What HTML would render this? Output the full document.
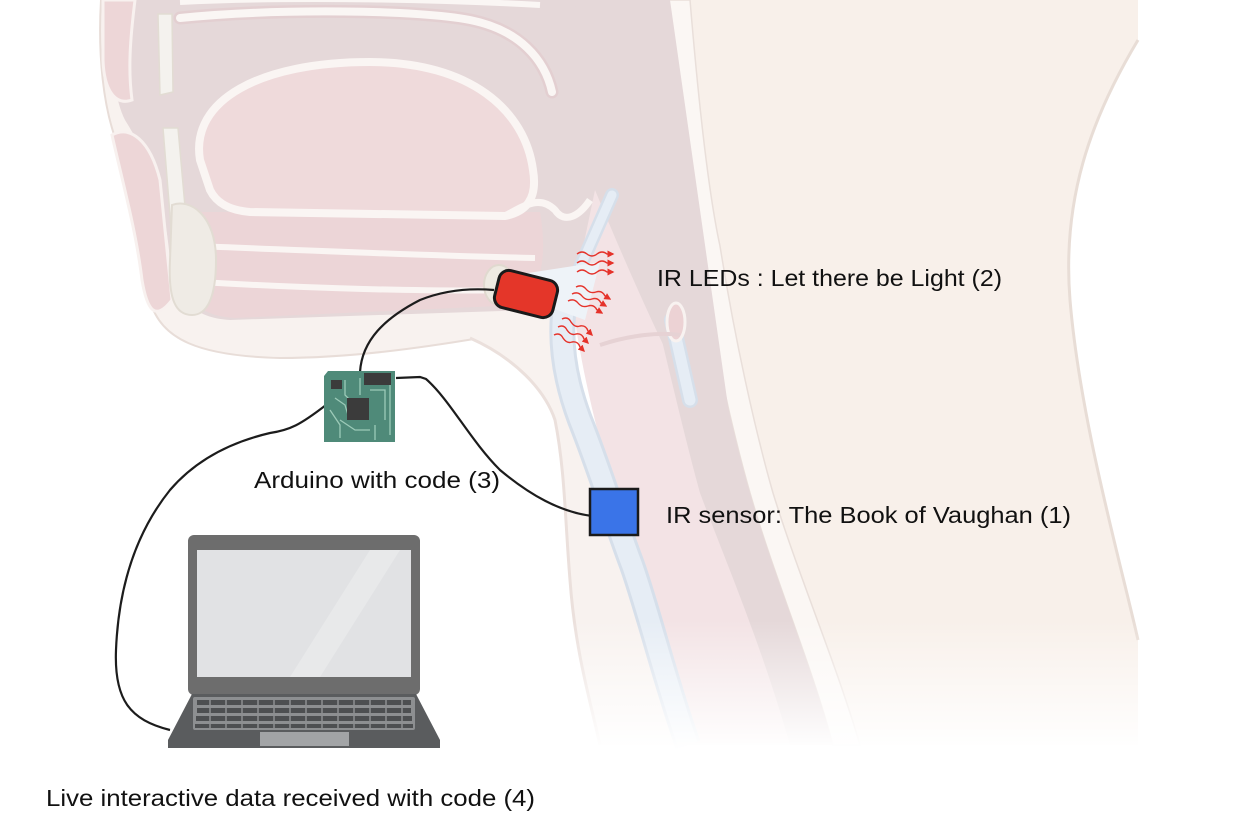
<!DOCTYPE html>
<html><head><meta charset="utf-8"><style>
html,body{margin:0;padding:0;background:#fff;}
svg{display:block;}
text{font-family:"Liberation Sans",sans-serif;fill:#111;font-size:23px;}
</style></head><body>
<svg width="1240" height="838" viewBox="0 0 1240 838" xmlns="http://www.w3.org/2000/svg">
<defs>
<linearGradient id="fade" x1="0" y1="0" x2="0" y2="1">
<stop offset="0" stop-color="#fff" stop-opacity="0"/>
<stop offset="1" stop-color="#fff" stop-opacity="1"/>
</linearGradient>
<marker id="ah" markerWidth="5" markerHeight="5" refX="4" refY="2.5" orient="auto"><path d="M0,0 L5,2.5 L0,5z" fill="#e5322a"/></marker>
</defs>

<path d="M690,0 L1138,0 L1138,40 C1090,120 1062,200 1070,300 C1080,420 1120,560 1138,640 L1138,745 L860,745 C835,660 800,580 773,493 C755,430 735,340 720,246 C710,200 700,120 690,0z" fill="#f8f0ea"/>
<path d="M1138,40 C1090,120 1062,200 1070,300 C1080,420 1120,560 1138,640" fill="none" stroke="#e8ddd6" stroke-width="3"/>
<path d="M667,0 L690,0 C700,120 710,200 720,246 C735,340 755,430 773,493 C800,580 835,660 860,745 L833,745 C810,660 775,580 750,493 C732,430 712,340 697,246 C687,200 677,120 667,0z" fill="#fbf7f4" stroke="#e9dfda" stroke-width="1.5"/>

<path d="M101,0 L600,0 L600,300 C560,325 520,335 480,338 C420,348 350,358 280,358 C200,356 160,340 150,300 C146,250 140,200 120,150 C102,110 98,50 101,0 Z" fill="#f8f2ef" stroke="#e8ddd8" stroke-width="2"/>
<path d="M115,0 L600,0 L600,262 C580,282 560,300 530,310 L230,320 C195,318 175,300 170,260 C165,200 150,160 125,120 C110,90 112,40 115,0 Z" fill="#e5d8d9"/>
<path d="M178,212 L540,212 C548,260 540,290 520,305 L235,318 C200,316 182,300 178,260 Z" fill="#ecd5d7"/>
<path d="M195,246 C300,250 430,256 535,258" fill="none" stroke="#faf5f3" stroke-width="6"/>
<path d="M200,282 C300,288 430,292 520,290" fill="none" stroke="#faf5f3" stroke-width="6"/>
<path d="M200,160 C190,100 260,62 370,62 C470,62 525,110 533,170 C538,200 525,212 505,216 L250,212 C225,210 215,200 210,190 Z" fill="#efdadb" stroke="#faf5f3" stroke-width="8"/>
<path d="M180,18 C280,8 420,10 470,20 C520,30 545,60 552,92" fill="none" stroke="#e3cfd1" stroke-width="13" stroke-linecap="round"/>
<path d="M180,18 C280,8 420,10 470,20 C520,30 545,60 552,92" fill="none" stroke="#faf6f4" stroke-width="8" stroke-linecap="round"/>
<path d="M180,2 C300,-4 450,0 540,5" fill="none" stroke="#faf6f4" stroke-width="6"/>
<path d="M103,0 L135,0 C130,40 128,70 132,100 C115,106 104,90 103,60 Z" fill="#edd6d7" stroke="#f8f1ef" stroke-width="3"/>
<path d="M112,135 C130,125 150,140 160,180 L172,300 C155,322 147,310 142,280 C136,230 122,180 112,135 Z" fill="#edd6d7" stroke="#f8f1ef" stroke-width="3"/>
<path d="M158,14 L172,14 L173,92 L160,95 Z" fill="#f4f2ee" stroke="#e2dcd3" stroke-width="1.5"/>
<path d="M163,128 L178,128 L188,240 L172,240 Z" fill="#f4f2ee" stroke="#e2dcd3" stroke-width="1.5"/>
<path d="M172,205 C190,198 216,215 216,260 C216,300 206,315 192,315 C176,315 168,300 170,260 Z" fill="#efebe5" stroke="#e2dcd3" stroke-width="2"/>

<path d="M560,0 L670,0 L730,420 L620,340 L560,270 Z" fill="#e5d8d9"/>
<path d="M595,190 C620,250 650,320 690,400 C720,470 745,520 770,580 C795,650 810,700 830,745 L690,745 C665,650 640,560 615,490 C595,430 580,360 572,300 Z" fill="#f3e3e5"/>
<path d="M575,0 L667,0 C677,120 687,200 697,246 C712,340 732,430 750,493 C775,580 810,660 833,745 L790,745 C760,640 725,560 700,493 C680,420 660,330 640,250 C625,200 600,160 580,130 Z" fill="#e5d8d9"/>
<path d="M505,216 C525,205 540,195 555,210 C565,225 580,215 590,200" fill="none" stroke="#faf5f3" stroke-width="7"/>

<path d="M470,338 C515,358 545,390 555,420 C565,470 565,520 570,580 C575,650 590,700 600,745 L685,745 C655,660 625,560 603,480 C587,420 572,360 562,300 Z" fill="#f8f2ef"/>
<path d="M470,338 C515,358 545,390 555,420 C565,470 565,520 570,580 C575,650 590,700 600,745" fill="none" stroke="#ebe0dc" stroke-width="3"/>
<path d="M565,300 C558,340 565,380 580,420 C600,470 615,520 632,565 C648,610 665,680 688,745" fill="none" stroke="#d6dfea" stroke-width="26"/>
<path d="M565,300 C558,340 565,380 580,420 C600,470 615,520 632,565 C648,610 665,680 688,745" fill="none" stroke="#e6edf5" stroke-width="20"/>
<path d="M570,290 L612,195" fill="none" stroke="#d6dfea" stroke-width="14" stroke-linecap="round"/>
<path d="M570,290 L612,195" fill="none" stroke="#e6edf5" stroke-width="9" stroke-linecap="round"/>
<path d="M515,275 L600,262 L585,320 L530,300z" fill="#eef3f8"/>
<path d="M672,320 L690,400" fill="none" stroke="#d6dfea" stroke-width="16" stroke-linecap="round"/>
<path d="M672,320 L690,400" fill="none" stroke="#e6edf5" stroke-width="11" stroke-linecap="round"/>
<ellipse cx="676" cy="322" rx="9" ry="19" fill="#ecd2d4" stroke="#f8f2f0" stroke-width="3"/>
<path d="M600,345 C630,335 660,332 680,335" fill="none" stroke="#e6d2d4" stroke-width="4"/>
<ellipse cx="499" cy="285" rx="15" ry="20" fill="#eeeae2" stroke="#e0d9cf" stroke-width="2"/>

<rect x="100" y="620" width="1050" height="130" fill="url(#fade)"/>

<g fill="none" stroke="#1c1c1c" stroke-width="2.2">
<path d="M494,290 C470,288 445,290 420,300 C385,318 362,340 360,372"/>
<path d="M396,378 L420,377 L426,379 C450,400 470,440 500,470 C530,495 560,512 592,516"/>
<path d="M326,405 C300,425 290,430 270,433 C240,440 200,455 170,490 C130,540 118,600 116,650 C114,700 130,720 170,730"/>
</g>

<g>
<path d="M328,371 L395,371 L395,442 L324,442 L324,376z" fill="#4f8a79"/>
<g stroke="#9ccab8" stroke-width="1.3" fill="none">
<path d="M345,380 L345,395 L352,402"/><path d="M335,398 L345,405 L348,415"/><path d="M360,378 L360,395"/>
<path d="M370,390 L385,390 L385,420"/><path d="M340,420 L355,430 L370,430"/><path d="M375,425 L375,440"/>
<path d="M330,410 L340,425 L340,438"/><path d="M390,380 L390,435"/>
</g>
<rect x="364" y="373" width="27" height="12" fill="#3b3b3b"/>
<rect x="347" y="398" width="22" height="22" fill="#3b3b3b"/>
<rect x="331" y="380" width="11" height="9" fill="#3b3b3b"/>
</g>

<rect x="188" y="535" width="232" height="160" rx="6" fill="#6d6d6d"/>
<rect x="197" y="550" width="214" height="127" fill="#e1e2e4"/>
<path d="M290,677 L370,550 L400,550 L320,677z" fill="#e8e9ea"/>
<path d="M192,694 L416,694 L440,740 L440,748 L168,748 L168,740z" fill="#5a5c5e"/>
<rect x="193" y="697" width="222" height="33" rx="2" fill="#8d8f91"/>
<g fill="#4d4f51">
<rect x="197" y="700" width="214" height="5"/><rect x="197" y="708" width="214" height="5"/><rect x="196" y="716" width="216" height="5"/><rect x="195" y="724" width="218" height="4"/>
</g>
<g stroke="#8d8f91" stroke-width="1.5">
<path d="M210,700v28M226,700v28M242,700v28M258,700v28M274,700v28M290,700v28M306,700v28M322,700v28M338,700v28M354,700v28M370,700v28M386,700v28M402,700v28"/>
</g>
<rect x="260" y="732" width="89" height="14" fill="#a2a4a6"/>

<rect x="496" y="275" width="60" height="38" rx="10" transform="rotate(14 526 294)" fill="#e43629" stroke="#1a1a1a" stroke-width="3"/>

<g fill="none" stroke="#e5322a" stroke-width="1.4" marker-end="url(#ah)">
<path d="M577,254 q5,-4 10,0 q5,4 10,0 q5,-4 10,0 l6,0"/>
<path d="M577,263 q5,-4 10,0 q5,4 10,0 q5,-4 10,0 l6,0"/>
<path d="M577,272 q5,-4 10,0 q5,4 10,0 q5,-4 10,0 l6,0"/>
<path d="M576,287 q6,-3 10,2 q4,5 10,3 q6,-2 9,4 l5,3"/>
<path d="M572,294 q6,-3 10,2 q4,5 10,3 q6,-2 9,4 l5,3"/>
<path d="M568,301 q6,-3 10,2 q4,5 10,3 q6,-2 9,4 l5,3"/>
<path d="M562,319 q6,-3 9,3 q4,6 9,4 q6,-1 8,5 l4,4"/>
<path d="M558,327 q6,-3 9,3 q4,6 9,4 q6,-1 8,5 l4,4"/>
<path d="M554,335 q6,-3 9,3 q4,6 9,4 q6,-1 8,5 l4,4"/>
</g>

<rect x="590" y="489" width="48" height="46" fill="#3a74e8" stroke="#1a1a1a" stroke-width="2.5"/>

<text x="657" y="286" textLength="345" lengthAdjust="spacingAndGlyphs">IR LEDs : Let there be Light (2)</text>
<text x="666" y="523" textLength="405" lengthAdjust="spacingAndGlyphs">IR sensor: The Book of Vaughan (1)</text>
<text x="254" y="488" textLength="246" lengthAdjust="spacingAndGlyphs">Arduino with code (3)</text>
<text x="46" y="806" textLength="489" lengthAdjust="spacingAndGlyphs">Live interactive data received with code (4)</text>
</svg>
</body></html>
